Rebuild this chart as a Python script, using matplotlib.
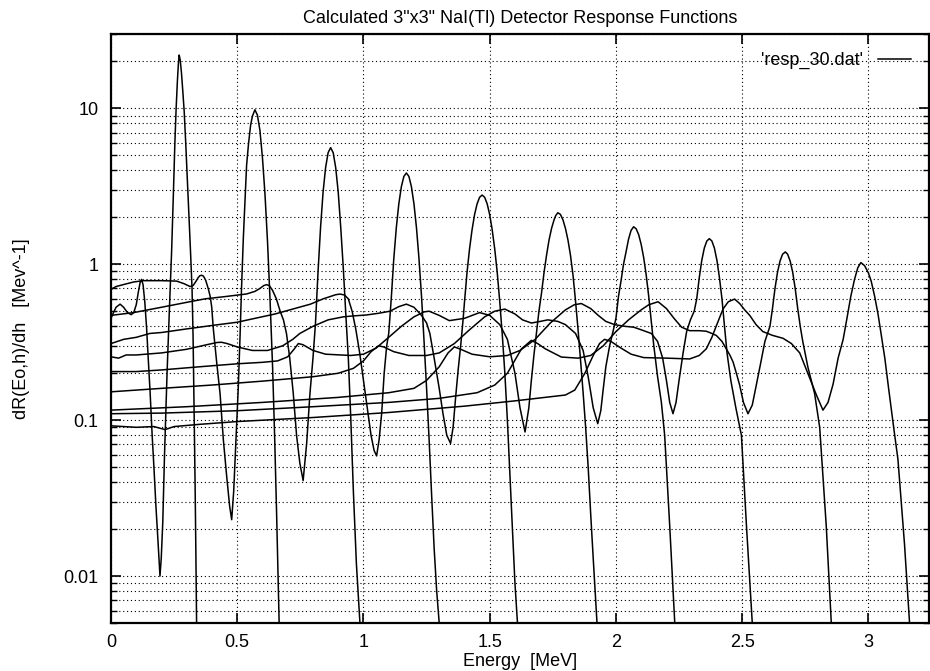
import matplotlib
matplotlib.use("Agg")
import matplotlib.pyplot as plt
from matplotlib.ticker import LogLocator, NullFormatter, FixedLocator

plt.rcParams['font.family'] = ['Liberation Sans', 'DejaVu Sans']

# response curves (energy MeV, dR/dh), one list per incident energy
resp_027 = [(0.0, 0.45), (0.01, 0.49), (0.02, 0.53), (0.036, 0.555), (0.05, 0.53), (0.065, 0.49),
            (0.08, 0.475), (0.09, 0.49), (0.1, 0.55), (0.108, 0.66), (0.115, 0.76), (0.121, 0.80),
            (0.127, 0.74), (0.134, 0.57), (0.141, 0.39), (0.148, 0.24), (0.155, 0.15), (0.163, 0.08),
            (0.17, 0.05), (0.178, 0.028), (0.185, 0.018), (0.19, 0.013), (0.194, 0.010), (0.199, 0.013),
            (0.205, 0.022), (0.212, 0.06), (0.222, 0.2), (0.232, 0.55), (0.24, 1.2), (0.247, 2.8),
            (0.253, 6.0), (0.258, 10.0), (0.263, 15.0), (0.267, 19.5), (0.27, 22.0), (0.274, 20.5),
            (0.279, 17.0), (0.285, 12.5), (0.29, 9.5), (0.296, 6.0), (0.302, 3.6), (0.309, 2.0),
            (0.315, 1.2), (0.321, 0.7), (0.325, 0.35), (0.329, 0.12), (0.333, 0.04), (0.336, 0.015),
            (0.339, 0.005)]

resp_057 = [(0.0, 0.69), (0.02, 0.72), (0.048, 0.74), (0.09, 0.77), (0.127, 0.785), (0.2, 0.785),
            (0.26, 0.78), (0.29, 0.75), (0.313, 0.72), (0.325, 0.73), (0.335, 0.77), (0.345, 0.82),
            (0.352, 0.845), (0.359, 0.85), (0.366, 0.84), (0.375, 0.79), (0.385, 0.70), (0.393, 0.62),
            (0.399, 0.53), (0.405, 0.39), (0.418, 0.24), (0.432, 0.148), (0.445, 0.075), (0.458, 0.044),
            (0.47, 0.028), (0.478, 0.023), (0.486, 0.035), (0.495, 0.075), (0.504, 0.16), (0.511, 0.34),
            (0.517, 0.7), (0.524, 1.45), (0.53, 2.4), (0.537, 4.3), (0.545, 6.0), (0.553, 7.8),
            (0.56, 8.9), (0.57, 9.8), (0.58, 9.05), (0.59, 7.2), (0.60, 4.8), (0.61, 2.8), (0.62, 1.39),
            (0.63, 0.59), (0.64, 0.22), (0.648, 0.08), (0.656, 0.025), (0.666, 0.005)]

resp_087 = [(0.0, 0.47), (0.09, 0.49), (0.2, 0.53), (0.3, 0.57), (0.372, 0.60), (0.45, 0.62),
            (0.537, 0.645), (0.57, 0.67), (0.59, 0.70), (0.605, 0.73), (0.616, 0.74), (0.627, 0.73),
            (0.64, 0.68), (0.655, 0.60), (0.67, 0.50), (0.683, 0.44), (0.695, 0.36), (0.708, 0.25),
            (0.722, 0.148), (0.735, 0.08), (0.748, 0.053), (0.761, 0.041), (0.775, 0.071), (0.788, 0.148),
            (0.80, 0.25), (0.81, 0.42), (0.82, 0.89), (0.83, 1.72), (0.84, 2.9), (0.85, 4.17), (0.86, 5.2),
            (0.87, 5.6), (0.88, 5.2), (0.89, 4.17), (0.90, 2.9), (0.91, 1.72), (0.92, 0.95), (0.93, 0.48),
            (0.94, 0.25), (0.95, 0.1), (0.96, 0.035), (0.972, 0.012), (0.986, 0.005)]

resp_117 = [(0.0, 0.31), (0.05, 0.33), (0.1, 0.34), (0.154, 0.36), (0.2, 0.365), (0.3, 0.385),
            (0.405, 0.406), (0.5, 0.425), (0.65, 0.48), (0.79, 0.555), (0.84, 0.60), (0.867, 0.62),
            (0.89, 0.638), (0.907, 0.644), (0.925, 0.635), (0.94, 0.6), (0.955, 0.5), (0.97, 0.38),
            (0.985, 0.27), (1.0, 0.18), (1.015, 0.12), (1.03, 0.08), (1.042, 0.064), (1.052, 0.059),
            (1.062, 0.075), (1.072, 0.11), (1.082, 0.2), (1.092, 0.3), (1.10, 0.36), (1.11, 0.6),
            (1.12, 1.08), (1.13, 1.71), (1.14, 2.44), (1.15, 3.14), (1.16, 3.66), (1.17, 3.85),
            (1.18, 3.66), (1.19, 3.14), (1.20, 2.44), (1.21, 1.71), (1.22, 1.08), (1.23, 0.62),
            (1.24, 0.32), (1.25, 0.16), (1.26, 0.075), (1.27, 0.033), (1.28, 0.015), (1.29, 0.008),
            (1.30, 0.005)]

resp_147 = [(0.0, 0.255), (0.03, 0.25), (0.06, 0.262), (0.1, 0.262), (0.2, 0.27), (0.3, 0.285),
            (0.38, 0.305), (0.42, 0.315), (0.438, 0.316), (0.46, 0.31), (0.5, 0.295), (0.56, 0.28),
            (0.62, 0.28), (0.68, 0.30), (0.72, 0.33), (0.748, 0.36), (0.8, 0.40), (0.86, 0.44),
            (0.92, 0.46), (0.95, 0.465), (1.012, 0.473), (1.06, 0.485), (1.105, 0.50), (1.14, 0.535),
            (1.17, 0.555), (1.2, 0.53), (1.23, 0.47), (1.25, 0.42), (1.263, 0.36), (1.28, 0.25),
            (1.3, 0.16), (1.315, 0.11), (1.33, 0.08), (1.345, 0.071), (1.355, 0.09), (1.365, 0.14),
            (1.375, 0.21), (1.385, 0.3), (1.395, 0.45), (1.40, 0.57), (1.41, 0.88), (1.42, 1.25),
            (1.43, 1.66), (1.44, 2.08), (1.45, 2.44), (1.46, 2.69), (1.47, 2.78), (1.48, 2.69),
            (1.49, 2.44), (1.50, 2.08), (1.51, 1.66), (1.52, 1.25), (1.53, 0.88), (1.54, 0.57),
            (1.55, 0.35), (1.56, 0.2), (1.57, 0.1), (1.58, 0.045), (1.59, 0.02), (1.60, 0.009),
            (1.61, 0.005)]

resp_177 = [(0.0, 0.205), (0.1, 0.205), (0.2, 0.21), (0.35, 0.22), (0.5, 0.23), (0.6, 0.235),
            (0.66, 0.24), (0.7, 0.255), (0.725, 0.285), (0.742, 0.31), (0.76, 0.305), (0.8, 0.28),
            (0.85, 0.265), (0.95, 0.26), (1.0, 0.265), (1.05, 0.29), (1.1, 0.34), (1.15, 0.40),
            (1.2, 0.46), (1.24, 0.495), (1.26, 0.50), (1.3, 0.47), (1.34, 0.435), (1.4, 0.45),
            (1.46, 0.49), (1.5, 0.47), (1.54, 0.41), (1.57, 0.33), (1.6, 0.2), (1.62, 0.12),
            (1.64, 0.084), (1.655, 0.12), (1.665, 0.18), (1.675, 0.26), (1.685, 0.36), (1.695, 0.5),
            (1.705, 0.65), (1.715, 0.88), (1.725, 1.14), (1.735, 1.43), (1.745, 1.7), (1.755, 1.93),
            (1.762, 2.06), (1.77, 2.14), (1.78, 2.09), (1.79, 1.93), (1.80, 1.7), (1.81, 1.43),
            (1.82, 1.14), (1.83, 0.85), (1.84, 0.58), (1.85, 0.38), (1.86, 0.24), (1.87, 0.15),
            (1.88, 0.09), (1.89, 0.05), (1.90, 0.025), (1.91, 0.013), (1.925, 0.005)]

resp_207 = [(0.0, 0.152), (0.2, 0.16), (0.4, 0.168), (0.6, 0.178), (0.8, 0.19), (0.9, 0.20),
            (0.96, 0.215), (1.0, 0.24), (1.03, 0.275), (1.06, 0.30), (1.08, 0.295), (1.12, 0.275),
            (1.18, 0.26), (1.25, 0.26), (1.3, 0.27), (1.36, 0.31), (1.42, 0.38), (1.48, 0.46),
            (1.52, 0.50), (1.56, 0.516), (1.6, 0.48), (1.63, 0.44), (1.665, 0.42), (1.7, 0.43),
            (1.73, 0.44), (1.77, 0.43), (1.8, 0.41), (1.84, 0.36), (1.87, 0.28), (1.89, 0.19),
            (1.91, 0.12), (1.928, 0.095), (1.94, 0.115), (1.95, 0.16), (1.96, 0.22), (1.975, 0.3),
            (1.99, 0.38), (2.0, 0.45), (2.01, 0.62), (2.02, 0.78), (2.03, 1.0), (2.04, 1.2),
            (2.05, 1.45), (2.06, 1.65), (2.07, 1.74), (2.08, 1.69), (2.09, 1.55), (2.10, 1.34),
            (2.11, 1.1), (2.12, 0.85), (2.13, 0.62), (2.14, 0.43), (2.15, 0.3), (2.165, 0.19),
            (2.18, 0.13), (2.193, 0.08), (2.213, 0.021), (2.233, 0.005)]

resp_237 = [(0.0, 0.116), (0.3, 0.122), (0.6, 0.13), (0.9, 0.14), (1.1, 0.15), (1.2, 0.16),
            (1.25, 0.18), (1.3, 0.22), (1.335, 0.27), (1.36, 0.295), (1.385, 0.285), (1.43, 0.265),
            (1.5, 0.255), (1.57, 0.26), (1.62, 0.28), (1.68, 0.33), (1.74, 0.42), (1.8, 0.51),
            (1.835, 0.55), (1.863, 0.56), (1.9, 0.52), (1.93, 0.47), (1.96, 0.43), (1.995, 0.41),
            (2.035, 0.40), (2.07, 0.395), (2.1, 0.38), (2.14, 0.36), (2.165, 0.32), (2.185, 0.25),
            (2.2, 0.18), (2.213, 0.13), (2.226, 0.11), (2.238, 0.13), (2.25, 0.18), (2.266, 0.27),
            (2.28, 0.37), (2.295, 0.44), (2.31, 0.5), (2.32, 0.6), (2.33, 0.82), (2.34, 1.06),
            (2.35, 1.27), (2.36, 1.41), (2.37, 1.46), (2.38, 1.41), (2.39, 1.27), (2.40, 1.06),
            (2.41, 0.82), (2.42, 0.6), (2.43, 0.4), (2.44, 0.27), (2.455, 0.18), (2.475, 0.12),
            (2.497, 0.08), (2.517, 0.021), (2.54, 0.005)]

resp_267 = [(0.0, 0.11), (0.2, 0.111), (0.5, 0.115), (0.8, 0.122), (1.1, 0.13), (1.3, 0.138),
            (1.45, 0.15), (1.52, 0.168), (1.57, 0.2), (1.626, 0.287), (1.665, 0.325), (1.69, 0.31),
            (1.72, 0.287), (1.784, 0.254), (1.85, 0.25), (1.9, 0.26), (1.95, 0.30), (2.0, 0.37),
            (2.05, 0.44), (2.1, 0.51), (2.13, 0.55), (2.167, 0.575), (2.2, 0.52), (2.23, 0.45),
            (2.26, 0.395), (2.292, 0.375), (2.33, 0.375), (2.358, 0.372), (2.38, 0.36), (2.398, 0.349),
            (2.42, 0.32), (2.437, 0.287), (2.452, 0.26), (2.464, 0.236), (2.477, 0.2), (2.49, 0.168),
            (2.505, 0.13), (2.523, 0.11), (2.54, 0.125), (2.556, 0.168), (2.575, 0.24), (2.59, 0.32),
            (2.61, 0.40), (2.62, 0.52), (2.63, 0.7), (2.64, 0.89), (2.65, 1.05), (2.66, 1.16),
            (2.671, 1.2), (2.68, 1.16), (2.69, 1.05), (2.70, 0.89), (2.71, 0.7), (2.72, 0.52),
            (2.73, 0.4), (2.74, 0.32), (2.76, 0.22), (2.787, 0.148), (2.807, 0.09), (2.833, 0.021),
            (2.853, 0.005)]

resp_297 = [(0.0, 0.092), (0.1, 0.09), (0.17, 0.091), (0.214, 0.087), (0.25, 0.091), (0.35, 0.094),
            (0.5, 0.098), (0.8, 0.104), (1.1, 0.112), (1.4, 0.123), (1.6, 0.133), (1.8, 0.145),
            (1.837, 0.156), (1.877, 0.20), (1.91, 0.26), (1.935, 0.31), (1.955, 0.33), (1.98, 0.32),
            (2.02, 0.29), (2.06, 0.265), (2.11, 0.252), (2.2, 0.25), (2.292, 0.247), (2.33, 0.26),
            (2.358, 0.287), (2.38, 0.34), (2.398, 0.404), (2.424, 0.516), (2.445, 0.575), (2.47, 0.598),
            (2.49, 0.56), (2.51, 0.51), (2.53, 0.47), (2.555, 0.41), (2.582, 0.37), (2.62, 0.35),
            (2.662, 0.335), (2.695, 0.31), (2.728, 0.27), (2.76, 0.2), (2.794, 0.145), (2.82, 0.116),
            (2.84, 0.13), (2.86, 0.17), (2.88, 0.25), (2.9, 0.33), (2.915, 0.45), (2.93, 0.62),
            (2.945, 0.8), (2.958, 0.95), (2.97, 1.025), (2.985, 0.98), (3.0, 0.88), (3.011, 0.78),
            (3.025, 0.62), (3.038, 0.48), (3.05, 0.36), (3.065, 0.25), (3.08, 0.16), (3.1, 0.09),
            (3.117, 0.056), (3.143, 0.016), (3.163, 0.005)]

curves = [resp_027, resp_057, resp_087, resp_117, resp_147,
          resp_177, resp_207, resp_237, resp_267, resp_297]

fig = plt.figure(figsize=(9.3, 6.71), dpi=100)
ax = fig.add_axes([111 / 930, 48 / 671, 818 / 930, 589 / 671])

for i, pts in enumerate(curves):
    xs = [p[0] for p in pts]
    ys = [p[1] for p in pts]
    ax.plot(xs, ys, color='black', lw=1.1, label="'resp_30.dat'" if i == 0 else None)

ax.set_yscale('log')
ax.set_xlim(0, 3.24)
ax.set_ylim(0.005, 30)

ax.xaxis.set_major_locator(FixedLocator([0, 0.5, 1, 1.5, 2, 2.5, 3]))
ax.set_xticklabels(['0', '0.5', '1', '1.5', '2', '2.5', '3'])
ax.yaxis.set_major_locator(FixedLocator([0.01, 0.1, 1, 10]))
ax.set_yticklabels(['0.01', '0.1', '1', '10'])
ax.yaxis.set_minor_locator(LogLocator(base=10, subs=range(2, 10), numticks=20))
ax.yaxis.set_minor_formatter(NullFormatter())

ax.tick_params(which='both', direction='in', top=True, right=True, labelsize=13)
ax.tick_params(axis='y', pad=9)
ax.tick_params(axis='x', pad=8)
ax.tick_params(which='major', length=7, width=1.2)
ax.tick_params(which='minor', length=4, width=1.0)

ax.grid(True, which='major', axis='both', color='black', linestyle=(0, (1, 2.5)), lw=0.8)
ax.grid(True, which='minor', axis='y', color='black', linestyle=(0, (1, 2.5)), lw=0.8)

for s in ax.spines.values():
    s.set_linewidth(1.6)

ax.set_title('Calculated 3"x3" NaI(Tl) Detector Response Functions', fontsize=13, pad=8)
ax.set_xlabel('Energy  [MeV]', fontsize=13, labelpad=1)
ax.set_ylabel('dR(Eo,h)/dh   [Mev^-1]', fontsize=13, labelpad=24)

ax.legend(loc='upper right', frameon=False, fontsize=13, handlelength=1.85, handletextpad=0.8,
          markerfirst=False, borderaxespad=0.6)

fig.savefig('out.png', dpi=100)
